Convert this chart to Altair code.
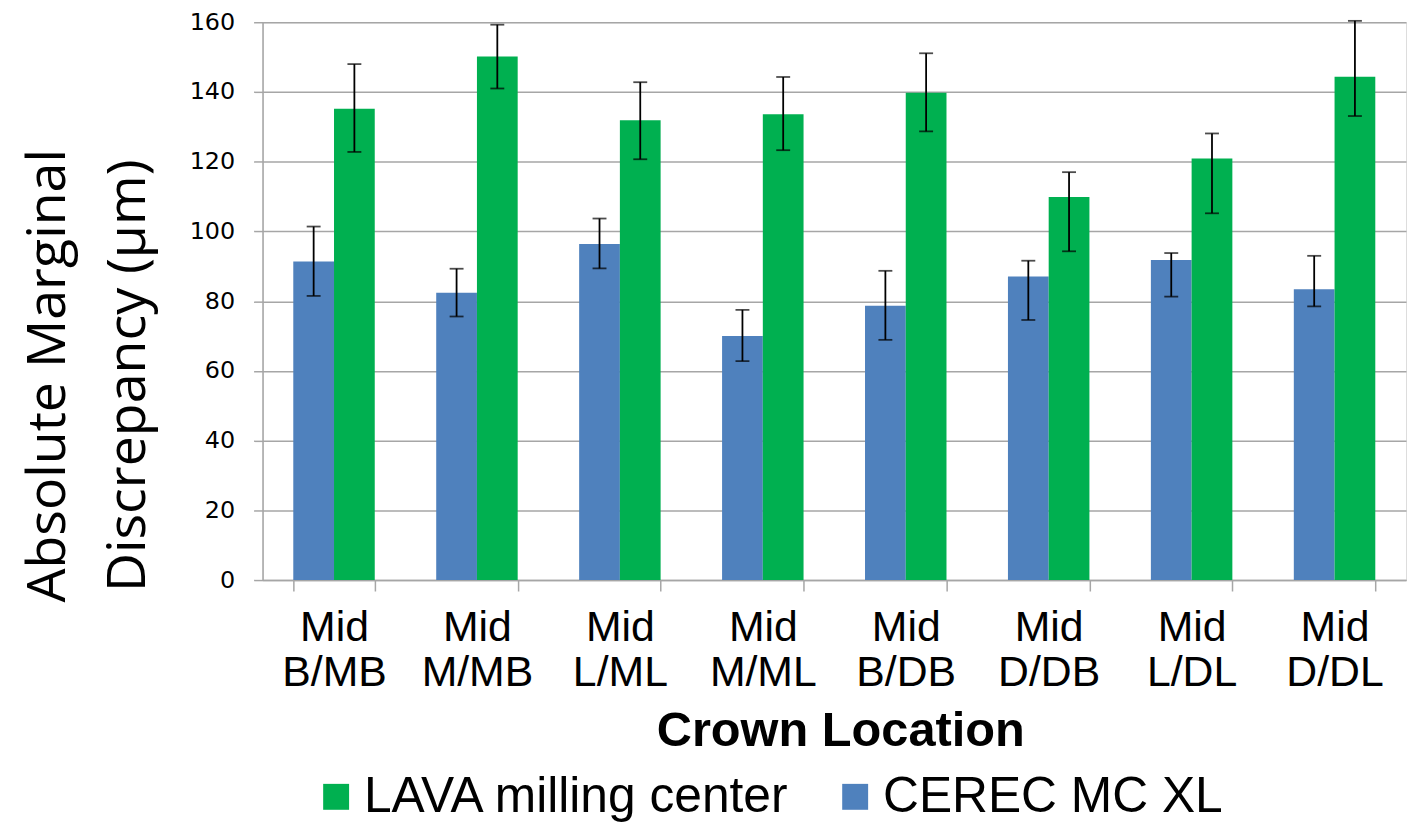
import altair as alt
import pandas as pd

categories = ["Mid B/MB", "Mid M/MB", "Mid L/ML", "Mid M/ML",
              "Mid B/DB", "Mid D/DB", "Mid L/DL", "Mid D/DL"]
series_names = ["CEREC MC XL", "LAVA milling center"]
legend_order = ["LAVA milling center", "CEREC MC XL"]
colors = ["#00B050", "#4F81BD"]

cerec_mean = [91.4, 82.4, 96.4, 70.0, 78.7, 87.1, 91.8, 83.4]
cerec_lo = [81.5, 75.6, 89.4, 62.8, 68.9, 74.6, 81.3, 78.5]
cerec_hi = [101.4, 89.3, 103.7, 77.5, 88.7, 91.6, 93.8, 93.0]

lava_mean = [135.2, 150.2, 131.9, 133.6, 139.8, 109.9, 120.9, 144.4]
lava_lo = [122.8, 141.0, 120.7, 123.3, 128.7, 94.3, 105.2, 133.1]
lava_hi = [148.0, 159.3, 142.8, 144.3, 151.1, 117.0, 128.1, 160.4]

y_ticks = [0, 20, 40, 60, 80, 100, 120, 140, 160]

rows = []
for i, c in enumerate(categories):
    rows.append({"cat": c, "series": series_names[0], "value": cerec_mean[i],
                 "lo": cerec_lo[i], "hi": cerec_hi[i]})
    rows.append({"cat": c, "series": series_names[1], "value": lava_mean[i],
                 "lo": lava_lo[i], "hi": lava_hi[i]})
df = pd.DataFrame(rows)

GRAY = "#A6A6A6"
PLOT_H = 561

x_enc = alt.X(
    "cat:N", sort=categories,
    scale=alt.Scale(paddingInner=0.43, paddingOuter=0.215),
    axis=alt.Axis(
        title="Crown Location", titleFont="Liberation Sans", titleFontSize=49,
        titleFontWeight="bold", titleColor="black", titleBaseline="alphabetic",
        titleX=581, titleY=166,
        labelFont="Liberation Sans", labelFontSize=43, labelColor="black",
        labelAngle=0, labelLineHeight=45, labelPadding=16,
        labelExpr="split(datum.label, ' ')",
        tickBand="extent", tickSize=11, tickColor=GRAY, tickWidth=1.5,
        domainColor=GRAY, domainWidth=1.5, grid=False,
    ),
)
xoff = alt.XOffset("series:N", sort=series_names,
                   scale=alt.Scale(paddingInner=0, paddingOuter=0))

y_scale = alt.Scale(domain=[0, 160], nice=False)

bars = alt.Chart(df).mark_bar().encode(
    x=x_enc,
    xOffset=xoff,
    y=alt.Y("value:Q", scale=y_scale,
            axis=alt.Axis(
                values=y_ticks,
                title=["Absolute Marginal", "Discrepancy (µm)"],
                titleFont="Open Sans", titleFontSize=54, titleFontWeight="normal",
                titleColor="black", titleAngle=-90, titleAlign="center",
                titleBaseline="alphabetic", titleX=-199, titleY=355,
                titleLineHeight=80,
                labelFont="DejaVu Sans", labelFontSize=24, labelColor="black",
                labelPadding=19,
                tickSize=9, tickColor=GRAY, tickWidth=1.5,
                domainColor=GRAY, domainWidth=1.5,
                grid=True, gridColor=GRAY, gridWidth=1.5,
            )),
    color=alt.Color("series:N",
                    scale=alt.Scale(domain=legend_order, range=colors),
                    legend=alt.Legend(
                        title=None, orient="none", direction="horizontal",
                        legendX=49, legendY=754,
                        symbolType="square", symbolSize=680,
                        symbolStrokeWidth=0, symbolOpacity=1,
                        labelFont="Liberation Sans", labelFontSize=50,
                        labelColor="black", labelOffset=3,
                        columnPadding=40, labelLimit=600,
                    )),
)

rule = alt.Chart(df).mark_rule(color="black", strokeWidth=1.8).encode(
    x=alt.X("cat:N", sort=categories),
    xOffset=xoff,
    y=alt.Y("lo:Q", scale=y_scale),
    y2="hi:Q",
)
cap_lo = alt.Chart(df).mark_tick(color="black", thickness=1.8, size=14,
                                 orient="horizontal").encode(
    x=alt.X("cat:N", sort=categories),
    xOffset=xoff,
    y=alt.Y("lo:Q", scale=y_scale),
)
cap_hi = alt.Chart(df).mark_tick(color="black", thickness=1.8, size=14,
                                 orient="horizontal").encode(
    x=alt.X("cat:N", sort=categories),
    xOffset=xoff,
    y=alt.Y("hi:Q", scale=y_scale),
)

chart = alt.layer(bars, rule, cap_lo, cap_hi).properties(
    width=1150, height=PLOT_H,
    autosize=alt.AutoSizeParams(type="none"),
    padding={"left": 256, "top": 12, "right": 4, "bottom": 243},
).configure_view(stroke=None).configure(background="white")

chart.save("out.html", embed_options={"renderer": "svg", "actions": False})
